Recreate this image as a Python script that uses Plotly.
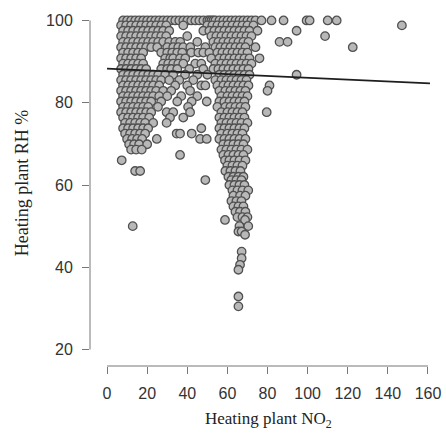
import plotly.graph_objects as go

# ---- data ----
x_ticks = [0, 20, 40, 60, 80, 100, 120, 140, 160]
y_ticks = [20, 40, 60, 80, 100]

rh_levels = [100, 98.8, 97.5, 96.2, 94.8, 93.5, 92.2, 90.8, 89.5, 88.2,
             86.8, 85.5, 84.2, 82.9, 81.6, 80.3, 79, 77.7, 76.4, 75.1,
             73.8, 72.5, 71.2, 69.9, 68.6, 67.3, 66, 64.7, 63.4, 62,
             61.2, 60, 58.7, 57.4, 56.1, 54.8, 53.5, 52.2, 51.5, 50,
             48.7, 47.9, 43.8, 42.2, 40.6, 39.4, 32.9, 30.5]

no2_at_level = [
    [8, 10, 12, 14, 16, 18, 20, 22, 24, 26, 28, 30, 32, 34, 36, 38, 40, 42, 44, 46, 48, 50, 51, 52, 53, 54,
     56, 58, 60, 62, 64, 66, 68, 70, 72, 74, 77, 82, 88, 99.5, 101, 110, 114.5],
    [7, 9.5, 12, 14.5, 17, 19.5, 22, 24.5, 27, 29.5, 38, 50, 52.5, 55, 57.5, 60, 62.5, 65, 67.5, 70, 73, 147],
    [8, 10.5, 13, 15.5, 18, 20.5, 23, 25.5, 28, 31, 48, 51, 53.5, 56, 58.5, 61, 63.5, 66, 68.5, 71, 75, 94.5],
    [7, 9.5, 12, 14.5, 17, 19.5, 22, 24.5, 27, 29.5, 40, 52, 54.5, 57, 59.5, 62, 64.5, 67, 69.5, 72, 108.7],
    [8, 10.5, 13, 15.5, 18, 20.5, 23, 25.5, 28, 31, 34, 36.5, 45, 53, 55.5, 58, 60.5, 63, 65.5, 68, 70.5, 86, 90],
    [7, 9.5, 12, 14.5, 17, 19.5, 22, 25, 30, 33, 35.5, 38, 41.5, 49, 54, 56.5, 59, 61.5, 64, 66.5, 69, 74, 122.5],
    [8, 10.5, 13, 15.5, 18, 27, 30, 32.5, 35, 37.5, 42, 45.5, 48, 51, 55, 57.5, 60, 62.5, 65, 67.5, 70],
    [7, 9.5, 12, 14.5, 17, 29, 31.5, 33, 36.4, 39, 52, 56, 58.5, 61, 63.5, 66, 68.5, 71, 76],
    [8, 10.5, 13, 15.5, 18, 28, 30.5, 33, 35.5, 38, 44, 47, 54, 57, 59.5, 62, 64.5, 67, 69.5, 72],
    [7, 9.5, 12, 14.5, 17, 19.5, 27, 30, 32, 35, 41, 48, 53, 55.5, 58, 60.5, 63, 65.5, 68, 70.5],
    [8, 10.5, 13, 15.5, 18, 20.5, 23, 25.5, 29, 33, 38.9, 45, 50, 56, 58.5, 61, 63.5, 66, 68.5, 71, 94.5],
    [7, 9.5, 12, 14.5, 17, 19.5, 22, 24.5, 27, 31, 36, 43, 54, 57, 59.5, 62, 64.5, 67, 69.5],
    [8, 10.5, 13, 15.5, 18, 20.5, 23, 26, 34, 40, 47, 49, 55, 58, 60.5, 63, 65.5, 68, 70.5, 81],
    [7, 9.5, 12, 14.5, 17, 19.5, 22, 24.5, 28, 32, 41.4, 56, 59, 61.5, 64, 66.5, 69, 80],
    [8, 10.5, 13, 15.5, 18, 20.5, 23, 26, 30, 37, 45, 57, 60, 62.5, 65, 67.5, 70],
    [7, 9.5, 12, 14.5, 17, 19.5, 22, 27, 35, 42.2, 49.7, 56, 58.5, 61, 63.5, 66, 68.5],
    [8, 10.5, 13, 15.5, 18, 20.5, 25.4, 40.4, 55, 59, 61.5, 64, 66.5, 69],
    [7, 9.5, 12, 14.5, 17, 19.5, 22, 29.7, 33, 41.4, 57, 60, 62.5, 65, 67.5, 79.6],
    [8, 10.5, 13, 15.5, 18, 21, 31.4, 38, 56, 58.5, 61, 63.5, 66, 68.5],
    [9, 11.5, 14, 16.5, 19, 23, 29.7, 57, 59.5, 62, 64.5, 67, 70],
    [8, 10.5, 13, 15.5, 18, 20.5, 47, 56, 58.5, 61, 63.5, 66, 68.5],
    [9, 11.5, 14, 16.5, 19, 34.7, 36.4, 42.2, 57, 60, 62.5, 65, 67.5],
    [10, 12.5, 15, 17.5, 24.8, 46.4, 49.7, 56, 58.5, 61, 63.5, 66, 69],
    [11, 13.5, 16, 20, 58, 60.5, 63, 65.5, 68],
    [12, 14.5, 17.3, 57, 59.5, 62, 64.5, 67, 70],
    [36.4, 58, 60.5, 63, 65.5, 68],
    [7.3, 58.8, 61, 63.5, 66, 69],
    [60, 62.5, 65, 67.5],
    [14, 16.5, 59, 61.5, 64, 66.5],
    [60.5, 63, 65.5, 68],
    [49, 62, 64.5, 67],
    [61, 63.5, 66, 68.5],
    [62.5, 65, 67.5, 70.4],
    [63, 66.3, 69],
    [62, 64.5, 67],
    [63, 65.5, 68],
    [64, 66.3, 69],
    [65, 67.5, 70],
    [58.8, 68.8],
    [12.8, 66, 70.4],
    [65.5, 67.1],
    [68.8],
    [67.1],
    [67.1],
    [66.3],
    [65.5],
    [65.5],
    [65.5],
]

fit_intercept = 88.3
fit_slope = -0.0224
fit_x = [0, 161]

# ---- build ----
no2, rh = [], []
for level, xs in zip(rh_levels, no2_at_level):
    no2 += xs
    rh += [level] * len(xs)
fit_y = [fit_intercept + fit_slope * v for v in fit_x]

fig = go.Figure()
fig.add_trace(go.Scatter(
    x=no2, y=rh, mode="markers", showlegend=False,
    marker=dict(size=8.5, color="#b8b8b8", line=dict(color="#505050", width=1.3)),
))
fig.add_trace(go.Scatter(
    x=fit_x, y=fit_y, mode="lines", showlegend=False,
    line=dict(color="#1e1e1e", width=1.6),
))

axis_common = dict(
    showgrid=False, zeroline=False, showline=False,
    ticks="outside", ticklen=7, tickwidth=1, tickcolor="#777777",
    tickfont=dict(family="Liberation Sans", size=16, color="#333333"),
)
fig.update_layout(
    width=446, height=441,
    margin=dict(l=90, r=6, t=4, b=75),
    plot_bgcolor="white", paper_bgcolor="white",
    xaxis=dict(range=[-8.5, 166], tickvals=x_ticks, ticklabelstandoff=6, **axis_common),
    yaxis=dict(range=[16, 104], tickvals=y_ticks, ticklabelstandoff=6, **axis_common),
    shapes=[
        dict(type="line", xref="x", yref="paper", x0=x_ticks[0], x1=x_ticks[-1], y0=0, y1=0,
             line=dict(color="#777777", width=1)),
        dict(type="line", xref="paper", yref="y", x0=0, x1=0, y0=y_ticks[0], y1=y_ticks[-1],
             line=dict(color="#777777", width=1)),
    ],
    annotations=[
        dict(text="Heating plant NO<sub>2</sub>", xref="paper", yref="paper", x=0.509, y=-0.149,
             xanchor="center", yanchor="middle", showarrow=False,
             font=dict(family="Liberation Serif", size=17, color="#222222")),
        dict(text="Heating plant RH %", xref="paper", yref="paper", x=-0.194, y=0.505,
             xanchor="center", yanchor="middle", textangle=-90, showarrow=False,
             font=dict(family="Liberation Serif", size=18, color="#222222")),
    ],
)

fig.write_html("out.html")
